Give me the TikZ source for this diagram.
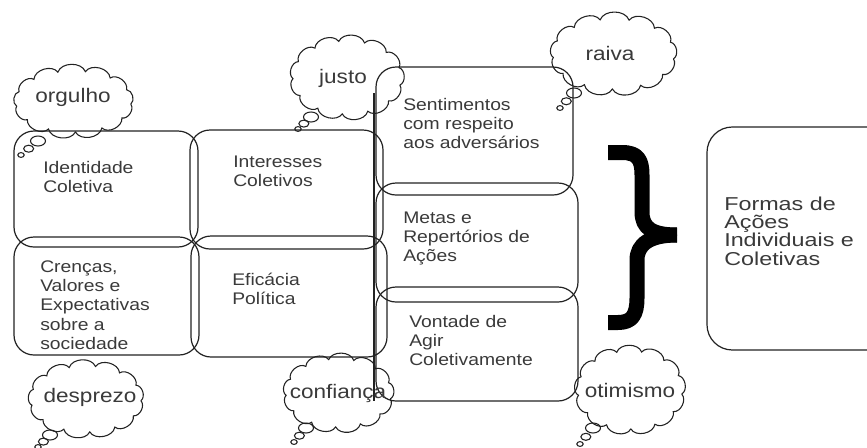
\documentclass[tikz,border=0pt]{standalone}
\usepackage{fontspec}
\setmainfont{Liberation Sans}[FakeStretch=1.15]
\newfontfamily\wideF{Liberation Sans}[FakeStretch=1.25]
\usetikzlibrary{calc}
\definecolor{ink}{HTML}{222222}
\definecolor{txt}{HTML}{3A3A3A}
% cloud: cx, cy, a, b, start angle
\newcommand\mycloud[5]{%
  \draw[cloudline] ({#1+#3*cos(#5)},{#2+#4*sin(#5)})
    \foreach \k in {1,...,13}{ to[bend left=70] ({#1+#3*cos(\k*360/13+#5)},{#2+#4*sin(\k*360/13+#5)}) };
}
% thought tail: start x, y, end x, y
\newcommand\mytail[4]{%
  \draw[cloudline] ($(#1,#2)!0!(#3,#4)$) ellipse [x radius=7.5, y radius=5];
  \draw[cloudline] ($(#1,#2)!0.55!(#3,#4)$) ellipse [x radius=5, y radius=3.5];
  \draw[cloudline] ($(#1,#2)!1!(#3,#4)$) ellipse [x radius=3.2, y radius=2.4];
}
\begin{document}
\begin{tikzpicture}[x=0.75pt,y=-0.75pt,
  box/.style={draw=ink,line width=0.9pt,rounded corners=15pt},
  boxtext/.style={anchor=base west,inner sep=0pt,text=txt,font=\fontsize{12.6}{14.6}\selectfont},
  cloudline/.style={draw=ink,line width=0.8pt},
  cloudtext/.style={inner sep=0pt,text=txt,font=\fontsize{14.7}{16}\selectfont},
  brace/.style={draw=black,line width=11.25pt,line join=round}
]
\useasboundingbox (0,0) rectangle (867,447);
\fill[white] (0,0) rectangle (867,447);
\clip (0,0) rectangle (867,447);

% left boxes
\draw[box] (14,131) rectangle (198,247);
\draw[box] (190,130) rectangle (383,249);
\draw[box] (14,237) rectangle (199,355);
\draw[box] (191,236) rectangle (387,357);
% right column
\draw[box] (376,67) rectangle (573,195);
\draw[box] (376,183) rectangle (578,302);
\draw[box] (376,287) rectangle (578,401);
\coordinate (vtop) at (374,93);
\coordinate (vbot) at (374,401);
\draw[ink,line width=0.9pt] (vtop) -- (vbot);
% result box
\draw[box,rounded corners=19pt] (707,127) rectangle (900,350);

% texts
\node[boxtext] (t1) at (43,173) {\vtop{\hbox{Identidade}\hbox{Coletiva}}};
\node[boxtext] (t2) at (233,167) {\vtop{\hbox{Interesses}\hbox{Coletivos}}};
\node[boxtext] (t3) at (40,272) {\vtop{\hbox{Crenças,}\hbox{Valores e}\hbox{Expectativas}\hbox{sobre a}\hbox{sociedade}}};
\node[boxtext] (t4) at (232,285) {\vtop{\hbox{Eficácia}\hbox{Política}}};
\node[boxtext] (t5) at (403,110) {\vtop{\hbox{Sentimentos}\hbox{com respeito}\hbox{aos adversários}}};
\node[boxtext] (t6) at (403,223) {\vtop{\hbox{Metas e}\hbox{Repertórios de}\hbox{Ações}}};
\node[boxtext] (t7) at (409,327) {\vtop{\hbox{Vontade de}\hbox{Agir}\hbox{Coletivamente}}};
\node[boxtext,font=\wideF\fontsize{14}{13.8}\selectfont] (t8) at (724,210) {\vtop{\hbox{Formas de}\hbox{Ações}\hbox{Individuais e}\hbox{Coletivas}}};

% brace
\draw[brace] (608,152.5) -- (622,152.5) .. controls (638,152.5) and (642,160) .. (642,175) -- (642,212) .. controls (642,228) and (652,235) .. (677,235);
\draw[brace] (677,235) .. controls (650,235) and (637,244) .. (637,260) -- (637,298) .. controls (637,315) and (632,322.5) .. (618,322.5) -- (608,322.5);

% thought clouds
\mycloud{73.5}{101.5}{57.5}{30.5}{5}
\mytail{38}{141}{21}{155}
\mycloud{347}{77.5}{54}{36.5}{12}
\mytail{311}{117}{298}{129}
\mycloud{613.5}{54}{60.5}{35}{8}
\mytail{574}{93}{560}{108}
\mycloud{86}{399}{55}{33}{3}
\mytail{50}{435}{38}{447}
\mycloud{338.5}{393}{52.5}{34}{10}
\mytail{306}{428}{294}{442}
\mycloud{630}{390}{52}{39}{6}
\mytail{593}{428}{580}{444}

\node[cloudtext] (w1) at (73,97) {orgulho};
\node[cloudtext] (w2) at (343,78) {justo};
\node[cloudtext] (w3) at (610,53) {raiva};
\node[cloudtext] (w4) at (90,397) {desprezo};
\node[cloudtext] (w5) at (338,393) {confiança};
\node[cloudtext] (w6) at (630,390) {otimismo};
\end{tikzpicture}
\end{document}
